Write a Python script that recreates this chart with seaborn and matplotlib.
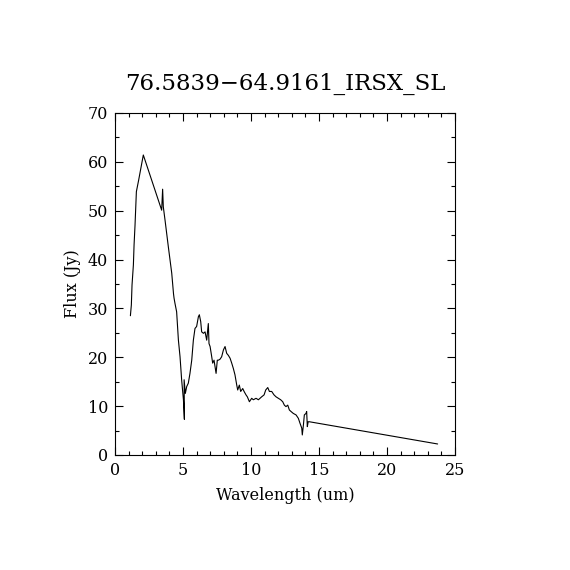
import numpy as np
import pandas as pd
import seaborn as sns
from matplotlib import pyplot as plt

# spectrum
wavelength = [1.13, 1.2, 1.25, 1.35, 1.4, 1.47, 1.57, 1.74, 2.08, 3.43, 3.5, 3.55, 3.68,
              3.92, 4.17, 4.3, 4.34, 4.41, 4.53, 4.66, 4.78, 4.9, 5.03, 5.1, 5.08, 5.17,
              5.27, 5.39, 5.51, 5.64, 5.76, 5.88, 6.0, 6.13, 6.2, 6.3, 6.37, 6.5,
              6.62, 6.74, 6.86, 6.91, 6.99, 7.11, 7.18, 7.28, 7.43, 7.52, 7.6, 7.72,
              7.84, 7.97, 8.09, 8.21, 8.33, 8.46, 8.58, 8.7, 8.82, 8.95, 9.02, 9.14,
              9.24, 9.39, 9.49, 9.63, 9.73, 9.88, 10.05, 10.17, 10.37, 10.54, 10.66,
              10.78, 10.96, 11.08, 11.23, 11.35, 11.52, 11.69, 11.84, 12.01, 12.18,
              12.33, 12.45, 12.57, 12.7, 12.82, 12.94, 13.11, 13.31, 13.48, 13.6,
              13.73, 13.77, 13.85, 13.92, 14.04, 14.09, 14.14, 14.2, 14.29, 23.72]
flux = [28.5, 30.7, 34.8, 38.9, 43.0, 47.0, 53.9, 56.3, 61.4, 50.1, 54.4, 50.8, 48.0,
        42.6, 37.2, 33.0, 32.1, 31.0, 29.3, 23.5, 20.1, 15.3, 11.3, 7.3, 15.4, 12.6,
        14.0, 14.7, 16.7, 19.4, 23.5, 25.9, 26.3, 28.3, 28.7, 27.3, 25.2, 24.9,
        25.2, 23.5, 26.9, 22.8, 22.2, 20.1, 18.8, 19.4, 16.7, 19.4, 19.4, 19.6,
        20.1, 21.5, 22.2, 20.8, 20.4, 19.8, 18.8, 17.7, 16.4, 14.3, 13.3, 14.3,
        13.0, 13.6, 13.0, 12.3, 11.9, 10.9, 11.6, 11.3, 11.6, 11.3, 11.6,
        11.9, 12.3, 13.3, 13.8, 13.0, 13.0, 12.3, 11.9, 11.6, 11.3,
        10.9, 10.2, 9.9, 10.2, 9.2, 8.9, 8.5, 8.2, 7.5, 6.5,
        5.5, 4.1, 6.1, 8.2, 8.5, 8.9, 5.8, 6.8, 6.8, 2.25]

title = "76.5839\u221264.9161_IRSX_SL"

df = pd.DataFrame({'Wavelength': wavelength, 'Flux': flux})

sns.set_style("ticks")
plt.rcParams['font.family'] = ['DejaVu Serif']
plt.rcParams['text.color'] = 'black'
plt.rcParams['axes.labelcolor'] = 'black'

fig = plt.figure(figsize=(5.7, 5.7), dpi=100)
ax = fig.add_axes([0.2018, 0.2018, 0.5965, 0.6])

sns.lineplot(data=df, x='Wavelength', y='Flux', sort=False, color='black',
             linewidth=0.8, ax=ax)

ax.set_xlim(0, 25)
ax.set_ylim(0, 70)
ax.set_xticks(range(0, 26, 5))
ax.set_yticks(range(0, 71, 10))
ax.set_xticks(range(0, 26, 1), minor=True)
ax.set_yticks(range(0, 71, 5), minor=True)
ax.tick_params(which='both', direction='in', top=True, right=True, width=0.8,
               labelsize=11.5, colors='black', pad=5)
ax.tick_params(which='major', length=6)
ax.tick_params(which='minor', length=3)
for s in ax.spines.values():
    s.set_visible(True)
    s.set_linewidth(0.8)
    s.set_color('black')

ax.set_xlabel('Wavelength (um)', fontsize=11.5, labelpad=6)
ax.set_ylabel('Flux (Jy)', fontsize=11.5, labelpad=5)
ax.set_title(title, fontsize=16.5, pad=17)

fig.savefig('out.png', dpi=100, facecolor='white')
